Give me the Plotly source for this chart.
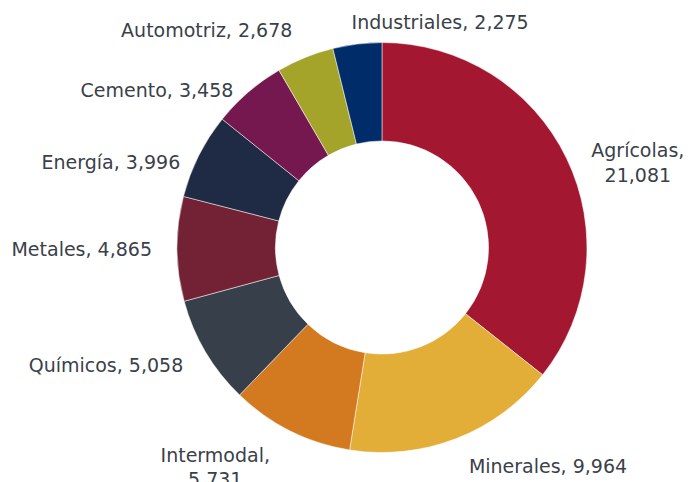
import plotly.graph_objects as go

categories = ["Agrícolas", "Minerales", "Intermodal", "Químicos", "Metales",
              "Energía", "Cemento", "Automotriz", "Industriales"]
values = [21081, 9964, 5731, 5058, 4865, 3996, 3458, 2678, 2275]
colors = ["#A31830", "#E2AE37", "#D37A20", "#37404A", "#722234",
          "#1F2A44", "#74184F", "#A4A42B", "#002C6A"]
templates = ["%{label},<br>%{value:,}", "%{label}, %{value:,}", "%{label},<br>%{value:,}",
             "%{label}, %{value:,}", "%{label}, %{value:,}", "%{label}, %{value:,}",
             "%{label}, %{value:,}", "%{label}, %{value:,}", "%{label}, %{value:,}"]
# which label layer draws each slice's label
label_layer = ["upper", "main", "main", "main", "main", "upper", "upper", "main", "top"]

font = dict(family="DejaVu Sans", size=19, color="#3A3F4A")
clear = ["rgba(0,0,0,0)"] * len(values)

# visible donut
ring = go.Pie(
    labels=categories, values=values,
    marker=dict(colors=colors, line=dict(color="white", width=0.5)),
    hole=0.52, sort=False, direction="clockwise", rotation=0,
    textinfo="none", automargin=False,
    domain=dict(x=[0.1104, 1.0], y=[0.0612, 0.9118]),
    showlegend=False,
)


def label_pie(layer, domain, rotation=0):
    return go.Pie(
        labels=categories, values=values,
        marker=dict(colors=clear, line=dict(width=0)),
        sort=False, direction="clockwise", rotation=rotation,
        textposition=["outside" if g == layer else "none" for g in label_layer],
        texttemplate=templates, textfont=font,
        automargin=False, hoverinfo="skip",
        domain=domain, showlegend=False,
    )


labels_main = label_pie("main", dict(x=[0.1104, 1.0], y=[0.0207, 0.9523]))
labels_upper = label_pie("upper", dict(x=[0.1104, 1.0], y=[0.0, 0.9108]))
labels_top = label_pie("top", dict(x=[0.0522, 0.942], y=[0.0415, 0.9315]), rotation=8)

fig = go.Figure([ring, labels_main, labels_upper, labels_top])

fig.update_layout(
    width=688, height=482,
    margin=dict(l=0, r=0, t=0, b=0),
    paper_bgcolor="white",
    plot_bgcolor="white",
)

fig.write_html("out.html")
